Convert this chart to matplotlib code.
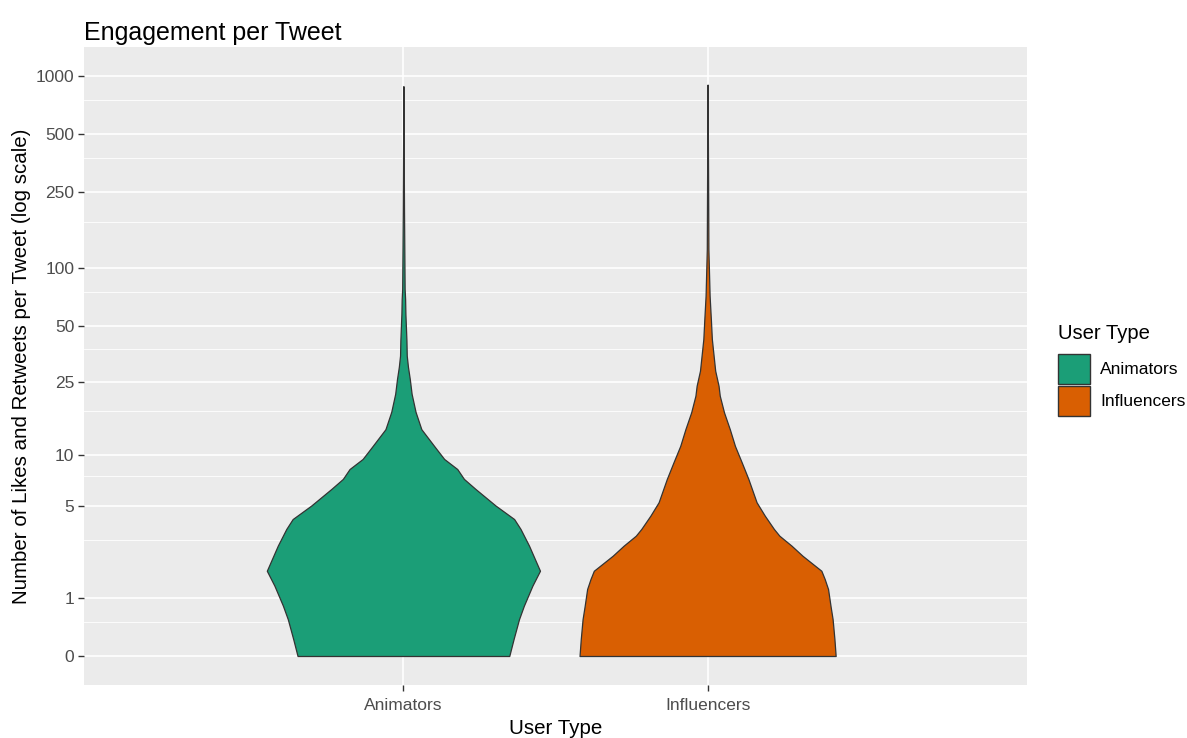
import numpy as np
import matplotlib.pyplot as plt
from matplotlib.patches import Patch
from matplotlib.ticker import FixedLocator, FixedFormatter

plt.rcParams['font.family'] = ['Liberation Sans', 'DejaVu Sans']

user_types = ['Animators', 'Influencers']
colors = ['#1B9E77', '#D95F02']
y_breaks = [0, 1, 5, 10, 25, 50, 100, 250, 500, 1000]

# violin outlines: engagement level -> half width of the density
anim_likes = [0, 0.22, 0.55, 0.82, 1.31, 1.76, 2.72, 3.54, 4.11, 5.0, 6.31,
              7.24, 8.27, 9.45, 11.2, 13.9, 17.3, 21.7, 26.1, 30.3, 34.8, 41.8,
              57.8, 69.3, 78.2, 200, 885]
anim_halfw = [0.348, 0.362, 0.380, 0.396, 0.424, 0.449, 0.413, 0.385, 0.364,
              0.303, 0.237, 0.199, 0.177, 0.134, 0.101, 0.059, 0.040, 0.027, 0.021,
              0.015, 0.011, 0.010, 0.0066, 0.0056, 0.004, 0.002, 0.0]

infl_likes = [0, 0.22, 0.55, 0.82, 1.22, 1.50, 1.76, 2.30, 2.72, 3.19, 3.54, 4.32,
              5.24, 7.24, 9.05, 11.2, 13.9, 17.2, 21.2, 24.0, 28.9, 42.6, 53.3,
              72.1, 126.5, 300, 902]
infl_halfw = [0.421, 0.417, 0.411, 0.404, 0.396, 0.385, 0.374, 0.312, 0.276, 0.236,
              0.218, 0.188, 0.161, 0.134, 0.112, 0.090, 0.073, 0.054, 0.040, 0.036,
              0.025, 0.014, 0.011, 0.0066, 0.0026, 0.0016, 0.0]


def fwd(v):
    return np.log10(1 + np.asarray(v, dtype=float))


def inv(t):
    return 10 ** np.asarray(t, dtype=float) - 1


W, H = 1187, 738
fig = plt.figure(figsize=(W / 100, H / 100), dpi=100)
ax = fig.add_axes([84 / W, 53 / H, 943 / W, 638 / H])
ax.set_yscale('function', functions=(fwd, inv))

profiles = [(anim_likes, anim_halfw), (infl_likes, infl_halfw)]
for i, ((lk, hw), col) in enumerate(zip(profiles, colors)):
    pos = i + 1
    hw = np.array(hw)
    ax.fill_betweenx(lk, pos - hw, pos + hw, facecolor=col,
                     edgecolor='#333333', linewidth=0.9, zorder=3)

ax.set_xlim(-0.05, 3.05)
ax.set_ylim(inv(-0.15), inv(3.15))

ax.xaxis.set_major_locator(FixedLocator([1, 2]))
ax.xaxis.set_major_formatter(FixedFormatter(user_types))
ax.yaxis.set_major_locator(FixedLocator(y_breaks))
ax.yaxis.set_major_formatter(FixedFormatter([str(b) for b in y_breaks]))
mids = [(a + b) / 2 for a, b in zip(y_breaks[:-1], y_breaks[1:])]
ax.yaxis.set_minor_locator(FixedLocator(mids))
ax.xaxis.set_minor_locator(FixedLocator([]))

ax.set_facecolor('#EBEBEB')
ax.set_axisbelow(True)
for s in ax.spines.values():
    s.set_visible(False)
ax.grid(which='major', color='white', linewidth=1.2)
ax.grid(which='minor', axis='y', color='white', linewidth=0.6)
ax.tick_params(which='major', length=4, width=1, color='#333333',
               labelcolor='#4D4D4D', labelsize=12.5, pad=3)
ax.tick_params(axis='x', which='major', pad=5)
ax.tick_params(which='minor', length=0)

ax.set_title('Engagement per Tweet', loc='left', fontsize=18, pad=5)
ax.set_xlabel('User Type', fontsize=14.8, labelpad=5)
ax.set_ylabel('Number of Likes and Retweets per Tweet (log scale)', fontsize=14.8,
              labelpad=3)

handles = [Patch(facecolor=c, edgecolor='#333333', linewidth=1) for c in colors]
leg = ax.legend(handles, user_types, title='User Type', loc='center left',
                bbox_to_anchor=(1058 / W, 1 - 370 / H), bbox_transform=fig.transFigure,
                frameon=False, fontsize=12.5, title_fontsize=14.6,
                handlelength=1.84, handleheight=2.28, handletextpad=0.58,
                labelspacing=0.115, borderpad=0, borderaxespad=0, alignment='left')
leg._legend_box.sep = 8

fig.savefig('out.png', dpi=100)
